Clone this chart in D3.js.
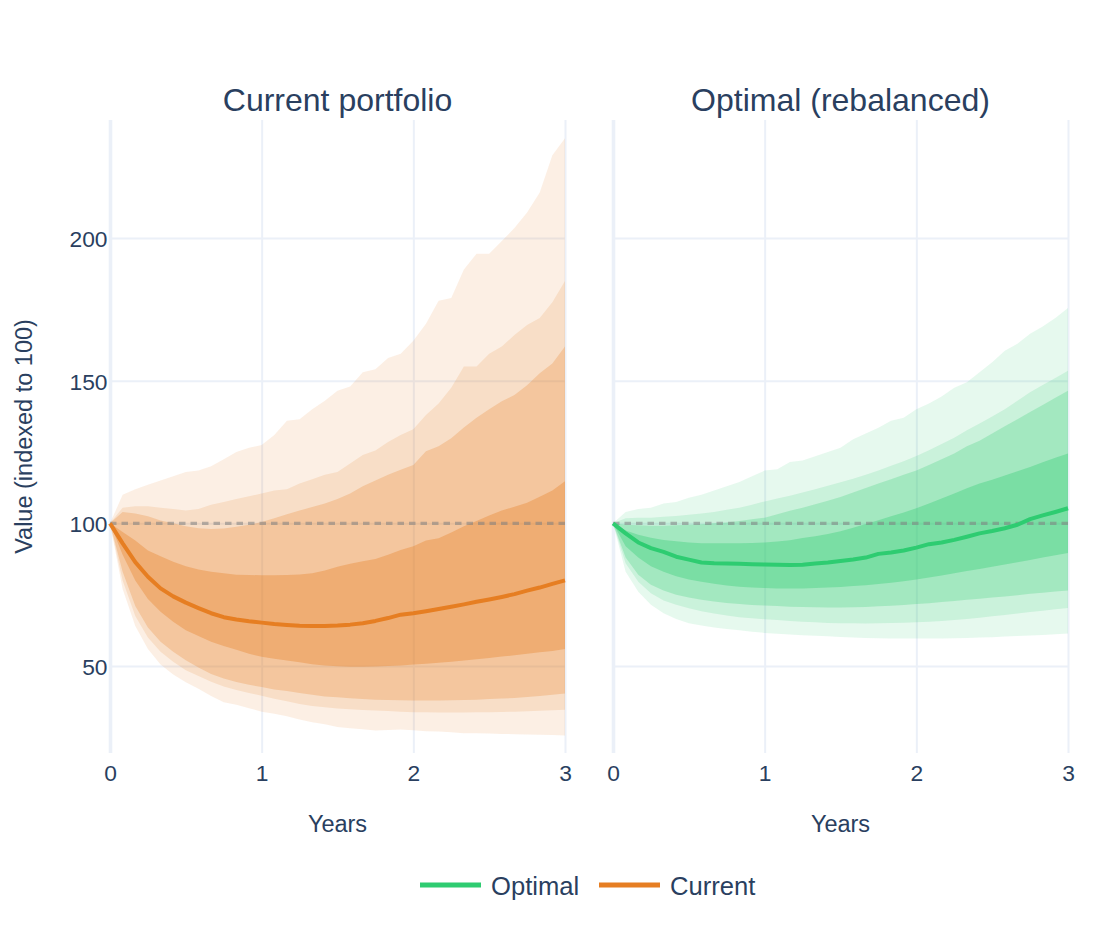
<!DOCTYPE html>
<html>
<head>
<meta charset="utf-8">
<script src="https://cdn.jsdelivr.net/npm/d3@7"></script>
<style>
    body { margin: 0; background: #fff; }
    svg text { font-family: "Liberation Sans", Arial, sans-serif; fill: #2a3f5f; }
</style>
</head>
<body>
<svg id="chart" width="1104" height="940"></svg>
<script>
// month index, 0..36 (3 years)
var months = [0, 1, 2, 3, 4, 5, 6, 7, 8, 9, 10, 11, 12, 13, 14, 15, 16, 17, 18,
    19, 20, 21, 22, 23, 24, 25, 26, 27, 28, 29, 30, 31, 32, 33, 34, 35, 36];

// Current portfolio percentiles
var curP99 = [100, 110, 112, 113.5, 115, 116.5, 118, 118.5, 120, 122.5, 125, 126.5, 127.5, 131, 136, 136.5, 140, 143, 146.5, 148,
    153, 154, 158, 159.5, 164, 170, 178, 179, 189, 194.5, 194.5, 199, 203.5, 209, 216, 229, 235];
var curP95 = [100, 105.5, 106, 106, 105.5, 105, 104.5, 105, 106.5, 107.5, 108.5, 109.5, 110.5, 111.5, 112, 114, 115.5, 117, 118, 121,
    124, 125.5, 128.5, 131, 133, 138, 142, 147.5, 155, 155, 159.5, 162, 166, 169.5, 172, 177.5, 185];
var curP90 = [100, 104, 103.5, 102.5, 101, 100, 99, 98.3, 98, 98.2, 98.8, 99.5, 100.5, 101.8, 103.2, 104.5, 105.7, 107, 108.5, 110.5,
    113, 115, 117, 118.8, 120.5, 125.3, 127, 129.8, 133.6, 137, 140, 142.8, 145, 148.4, 152.6, 156, 162];
var curP75 = [100, 97, 94, 90.5, 88.5, 86.5, 85, 83.8, 83, 82.5, 82, 81.9, 81.8, 81.8, 81.9, 82.1, 82.5, 83.5, 84.8, 85.8,
    86.7, 87.5, 89, 90.7, 92, 94, 94.8, 96.8, 99, 100.8, 102.8, 104.5, 105.8, 107.2, 109.3, 111.5, 114.8];
var curP50 = [100, 93, 86.4, 81.3, 77.2, 74.4, 72.2, 70.3, 68.5, 67.1, 66.3, 65.7, 65.2, 64.7, 64.4, 64.1, 64, 64, 64.2, 64.5,
    65, 65.8, 66.8, 68, 68.5, 69.2, 70, 70.8, 71.6, 72.5, 73.3, 74.2, 75.2, 76.4, 77.5, 78.8, 80];
var curP25 = [100, 89, 80, 73.5, 69, 65.5, 62.5, 60.5, 58.5, 57, 55.7, 54.3, 53.2, 52.5, 51.9, 51.3, 50.6, 50.2, 49.9, 49.7,
    49.7, 49.8, 50, 50.2, 50.5, 50.8, 51.1, 51.5, 51.9, 52.4, 52.8, 53.3, 53.8, 54.3, 54.8, 55.3, 56];
var curP10 = [100, 83, 71, 63.5, 58.5, 55, 52, 49.5, 47.2, 45.6, 44.4, 43.4, 42.6, 41.8, 41.2, 40.5, 39.9, 39.3, 39, 38.7,
    38.4, 38.2, 38.1, 38, 37.9, 37.9, 37.9, 38, 38.1, 38.2, 38.4, 38.6, 38.8, 39.1, 39.5, 39.9, 40.4];
var curP05 = [100, 80, 67.5, 60, 55, 51.5, 48.5, 46.5, 44.5, 42.8, 41.6, 40.5, 39.6, 38.5, 37.6, 36.7, 36, 35.5, 35.1, 34.8,
    34.6, 34.4, 34.2, 34, 33.8, 33.8, 33.7, 33.7, 33.7, 33.8, 33.8, 33.9, 34, 34.1, 34.3, 34.5, 34.7];
var curP01 = [100, 77, 64, 56, 50.5, 47, 44.3, 42, 39.5, 37.3, 36.4, 35.2, 34, 33.3, 32.4, 31.2, 30.3, 29.6, 28.6, 28.2,
    27.8, 27.4, 27.6, 27.7, 27.5, 27.1, 27, 26.8, 26.4, 26.4, 26.3, 26.2, 26.1, 26, 25.9, 25.8, 25.6];

// Optimal (rebalanced) percentiles
var optP99 = [100, 104, 105, 105.5, 107, 107.5, 109, 110, 111.5, 113, 114.5, 116.5, 118.5, 119, 121.5, 122, 123.5, 125, 126.5, 129.5,
    131.5, 133.5, 136, 137, 140, 142, 144.5, 147.5, 149.5, 153, 156.5, 160.5, 163, 166.5, 169, 172, 175.5];
var optP95 = [100, 101.8, 102, 102, 102.3, 102.6, 103, 103.5, 104, 104.8, 105.5, 106.5, 107.7, 108.7, 109.7, 110.8, 112, 113.2, 114.4, 115.6,
    117, 118.5, 120.2, 121.8, 123.6, 125.6, 127.8, 130, 132.6, 135, 137.5, 140, 143, 146, 148.5, 151, 153.5];
var optP90 = [100, 99.5, 99.3, 99.2, 99.2, 99.3, 99.5, 99.7, 100, 100.3, 100.8, 101.4, 102, 103.2, 104.4, 105.5, 106.7, 107.9, 109.2, 110.8,
    112.4, 114, 115.5, 117, 118.5, 120.5, 122.5, 124.5, 127, 129, 131.5, 134, 136.5, 139, 141.5, 144, 146.5];
var optP75 = [100, 97.5, 96, 95, 94.2, 93.7, 93.3, 93, 93, 93, 93, 93.1, 93.3, 93.6, 94.1, 94.9, 95.5, 96.3, 97.2, 98.5,
    99.8, 101.1, 102.5, 103.8, 105.3, 107, 108.7, 110.5, 112.3, 114, 115.3, 116.8, 118.3, 119.8, 121.4, 123, 124.5];
var optP50 = [100, 96.5, 93.3, 91.3, 90, 88.3, 87.3, 86.3, 86, 85.9, 85.8, 85.7, 85.6, 85.5, 85.4, 85.5, 85.9, 86.3, 86.8, 87.3,
    88, 89.3, 89.8, 90.5, 91.5, 92.7, 93.3, 94.2, 95.3, 96.5, 97.3, 98.3, 99.5, 101.5, 102.8, 104, 105.3];
var optP25 = [100, 92, 88, 85, 83, 81.5, 80.3, 79.5, 78.8, 78.2, 77.8, 77.5, 77.3, 77.2, 77.2, 77.2, 77.3, 77.5, 77.7, 78,
    78.3, 78.7, 79.2, 79.7, 80.3, 81, 81.7, 82.5, 83.3, 84, 84.8, 85.6, 86.4, 87.2, 88, 88.8, 89.6];
var optP10 = [100, 88, 82, 78.5, 76.5, 75, 74, 73.2, 72.6, 72.1, 71.7, 71.4, 71.2, 71, 70.8, 70.7, 70.6, 70.5, 70.5, 70.6,
    70.7, 70.9, 71.1, 71.4, 71.7, 72, 72.4, 72.8, 73.2, 73.6, 74, 74.4, 74.8, 75.3, 75.7, 76.1, 76.5];
var optP05 = [100, 86, 79.5, 75.5, 73, 71.5, 70.2, 69.2, 68.4, 67.7, 67.1, 66.7, 66.4, 66.1, 65.8, 65.5, 65.3, 65.1, 65, 65,
    64.9, 65, 65.1, 65.2, 65.3, 65.5, 65.8, 66.1, 66.5, 66.9, 67.4, 67.9, 68.4, 68.9, 69.4, 69.9, 70.3];
var optP01 = [100, 83, 76, 71.5, 68.5, 66.5, 65, 64.2, 63.5, 63, 62.5, 62, 61.6, 61.3, 61, 60.8, 60.6, 60.4, 60.2, 60,
    59.8, 59.7, 59.6, 59.6, 59.6, 59.6, 59.6, 59.7, 59.8, 60, 60.1, 60.3, 60.5, 60.7, 60.9, 61.1, 61.4];

var xTicks = [0, 1, 2, 3];
var yTicks = [50, 100, 150, 200];
var bandOpacity = [0.12, 0.15, 0.25, 0.35];
var legendItems = [
    { name: "Optimal", color: "#2ecc71" },
    { name: "Current", color: "#e67e22" }
];

var GRID = "#ebf0f8";
var TICK_FONT = 22.8;
var TITLE_FONT = 23.5;
var plotTop = 120, plotBottom = 753;

var panels = [
    { title: "Current portfolio", left: 110, right: 565, color: "#e67e22", showY: true,
      lo: [curP01, curP05, curP10, curP25], hi: [curP99, curP95, curP90, curP75], mid: curP50 },
    { title: "Optimal (rebalanced)", left: 613, right: 1068, color: "#2ecc71", showY: false,
      lo: [optP01, optP05, optP10, optP25], hi: [optP99, optP95, optP90, optP75], mid: optP50 }
];

var svg = d3.select("#chart");

var y = d3.scaleLinear().domain([19.5, 241.4]).range([plotBottom, plotTop]);

panels.forEach(function (p) {
    var x = d3.scaleLinear().domain([0, 3]).range([p.left, p.right]);
    var idx = months.map(function (m, i) { return i; });
    var g = svg.append("g").attr("class", "panel");

    // horizontal grid + y tick labels
    var yAxis = g.append("g")
        .attr("transform", "translate(" + p.left + ",0)")
        .call(d3.axisLeft(y)
            .tickValues(yTicks)
            .tickSize(-(p.right - p.left))
            .tickPadding(2.5)
            .tickFormat(p.showY ? d3.format("d") : function () { return ""; }));
    yAxis.select(".domain").remove();
    yAxis.selectAll(".tick line").attr("stroke", GRID).attr("stroke-width", 2);
    yAxis.selectAll(".tick text")
        .attr("font-size", TICK_FONT)
        .attr("dy", "0.37em")
        .style("fill", "#2a3f5f");

    // vertical grid + x tick labels
    var xAxis = g.append("g")
        .attr("transform", "translate(0," + plotBottom + ")")
        .call(d3.axisBottom(x)
            .tickValues(xTicks)
            .tickSize(-(plotBottom - plotTop))
            .tickPadding(12.3)
            .tickFormat(d3.format("d")));
    xAxis.select(".domain").remove();
    xAxis.selectAll(".tick line")
        .attr("stroke", GRID)
        .attr("stroke-width", function (d) { return d === 0 ? 3.6 : 2; });
    xAxis.selectAll(".tick text")
        .attr("font-size", TICK_FONT)
        .style("fill", "#2a3f5f");

    // fan bands, outermost first
    p.lo.forEach(function (lo, b) {
        var hi = p.hi[b];
        var area = d3.area()
            .x(function (i) { return x(months[i] / 12); })
            .y0(function (i) { return y(lo[i]); })
            .y1(function (i) { return y(hi[i]); });
        g.append("path")
            .datum(idx)
            .attr("d", area)
            .attr("fill", p.color)
            .attr("fill-opacity", bandOpacity[b])
            .attr("stroke", "none");
    });

    // reference line at 100
    g.append("line")
        .attr("x1", x(0))
        .attr("x2", x(3))
        .attr("y1", y(100))
        .attr("y2", y(100))
        .attr("stroke", "#808080")
        .attr("stroke-opacity", 0.55)
        .attr("stroke-width", 3.4)
        .attr("stroke-dasharray", "6.5,5");

    // median
    var line = d3.line()
        .x(function (i) { return x(months[i] / 12); })
        .y(function (i) { return y(p.mid[i]); });
    g.append("path")
        .datum(idx)
        .attr("d", line)
        .attr("fill", "none")
        .attr("stroke", p.color)
        .attr("stroke-width", 4)
        .attr("stroke-linejoin", "round");

    // subplot title
    g.append("text")
        .attr("x", (p.left + p.right) / 2)
        .attr("y", 111)
        .attr("text-anchor", "middle")
        .attr("font-size", 32)
        .text(p.title);

    // x axis title
    g.append("text")
        .attr("x", (p.left + p.right) / 2)
        .attr("y", 832)
        .attr("text-anchor", "middle")
        .attr("font-size", TITLE_FONT)
        .text("Years");
});

// y axis title
svg.append("text")
    .attr("transform", "translate(32," + ((plotTop + plotBottom) / 2) + ") rotate(-90)")
    .attr("text-anchor", "middle")
    .attr("font-size", TITLE_FONT)
    .text("Value (indexed to 100)");

// legend
var legend = svg.append("g").attr("class", "legend");
var legendX = [420, 599];
legendItems.forEach(function (item, i) {
    var lg = legend.append("g").attr("transform", "translate(" + legendX[i] + ",885)");
    lg.append("line")
        .attr("x1", 0).attr("x2", 61)
        .attr("y1", 0).attr("y2", 0)
        .attr("stroke", item.color)
        .attr("stroke-width", 5);
    lg.append("text")
        .attr("x", 71)
        .attr("y", 10)
        .attr("font-size", 25.6)
        .text(item.name);
});
</script>
</body>
</html>
